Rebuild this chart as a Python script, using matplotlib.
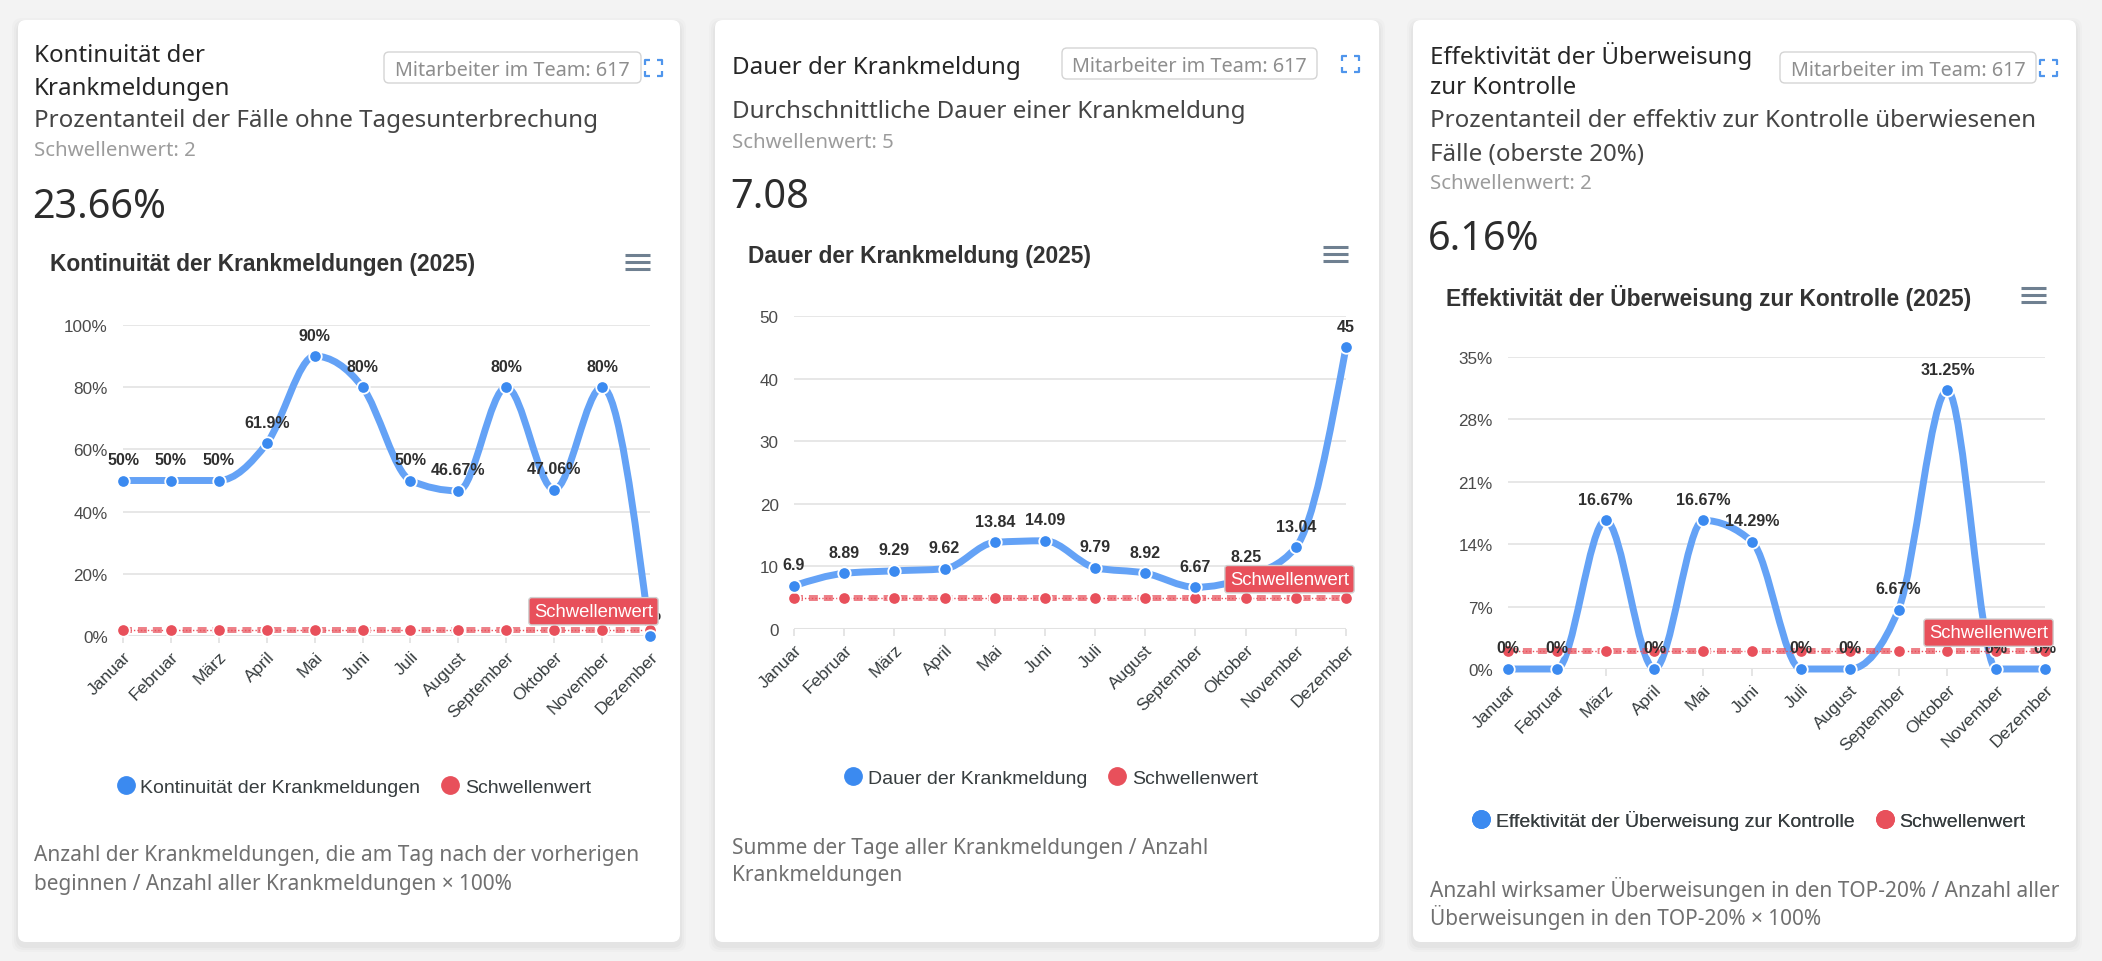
import numpy as np
import matplotlib
matplotlib.use('Agg')
import matplotlib.pyplot as plt
import matplotlib.patches as patches
from matplotlib.path import Path
from matplotlib.lines import Line2D

plt.rcParams['font.family'] = ['Liberation Sans', 'DejaVu Sans']

# --- Daten -------------------------------------------------------------
months = ['Januar', 'Februar', 'März', 'April', 'Mai', 'Juni', 'Juli',
          'August', 'September', 'Oktober', 'November', 'Dezember']

kontinuitaet = [50, 50, 50, 61.9, 90, 80, 50, 46.67, 80, 47.06, 80, 0]
dauer = [6.9, 8.89, 9.29, 9.62, 13.84, 14.09, 9.79, 8.92, 6.67, 8.25, 13.04, 45]
effektivitaet = [0, 0, 16.67, 0, 16.67, 14.29, 0, 0, 6.67, 31.25, 0, 0]

schwelle_kont = 2
schwelle_dauer = 5
schwelle_eff = 2

yticks_kont = [0, 20, 40, 60, 80, 100]
yticks_dauer = [0, 10, 20, 30, 40, 50]
yticks_eff = [0, 7, 14, 21, 28, 35]

kpi_kont = '23.66%'
kpi_dauer = '7.08'
kpi_eff = '6.16%'
team = 'Mitarbeiter im Team: 617'

BLUE_LINE = '#64a2f6'
BLUE = '#3b8af0'
RED = '#e8505b'
W, H = 2102, 962
CARD_FONT = ['Noto Sans', 'DejaVu Sans']

fig = plt.figure(figsize=(W / 100, H / 100), dpi=100)
fig.patch.set_facecolor('#f3f3f3')

# Hintergrund-Achse in Pixelkoordinaten
bg = fig.add_axes([0, 0, 1, 1])
bg.set_xlim(0, W)
bg.set_ylim(H, 0)
bg.axis('off')


def px_rect(x0, x1, ytop, ybot):
    return [x0 / W, 1 - ybot / H, (x1 - x0) / W, (ybot - ytop) / H]


def draw_card(left, right, top=21, bottom=943):
    for i, a in enumerate([0.025, 0.02, 0.015]):
        sh = patches.FancyBboxPatch((left - 2 - i * 2, top - 1 - i * 2 + 3),
                                    right - left + 4 + i * 4, bottom - top + 4 + i * 4,
                                    boxstyle='round,pad=0,rounding_size=10',
                                    fc='#000000', ec='none', alpha=a)
        bg.add_patch(sh)
    card = patches.FancyBboxPatch((left, top), right - left, bottom - top,
                                  boxstyle='round,pad=0,rounding_size=8',
                                  fc='white', ec='none')
    bg.add_patch(card)


def draw_badge(x0, x1, y0, y1, icon_x0):
    box = patches.FancyBboxPatch((x0, y0), x1 - x0, y1 - y0,
                                 boxstyle='round,pad=0,rounding_size=5',
                                 fc='white', ec='#d4d4d4', lw=1.0)
    bg.add_patch(box)
    bg.text((x0 + x1) / 2, (y0 + y1) / 2 + 2, team, ha='center', va='center',
            fontsize=14.3, color='#8e8e8e', family=CARD_FONT)
    # Vollbild-Icon
    cy = (y0 + y1) / 2
    ix0, ix1, iy0, iy1 = icon_x0, icon_x0 + 17, cy - 8, cy + 8
    k = 5
    for (cx, cyy, dx, dy) in [(ix0, iy0, 1, 1), (ix1, iy0, -1, 1),
                              (ix0, iy1, 1, -1), (ix1, iy1, -1, -1)]:
        bg.plot([cx, cx, cx + dx * k], [cyy + dy * k, cyy, cyy],
                color='#4f95ec', lw=1.6, solid_capstyle='butt')


def draw_menu(x0, y0):
    for j in range(3):
        bg.plot([x0, x0 + 25], [y0 + j * 7, y0 + j * 7], color='#6f8091', lw=2.2,
                solid_capstyle='butt')


def smooth_path(xs, ys):
    # monotone kubische Kurve (wie "smooth" im Original)
    x = np.asarray(xs, dtype=float)
    y = np.asarray(ys, dtype=float)
    n = len(x)
    h = np.diff(x)
    s = np.diff(y) / h
    t = np.zeros(n)
    for i in range(1, n - 1):
        if s[i - 1] * s[i] > 0:
            p = (s[i - 1] * h[i] + s[i] * h[i - 1]) / (h[i - 1] + h[i])
            t[i] = (np.sign(s[i - 1]) + np.sign(s[i])) * min(abs(s[i - 1]), abs(s[i]), 0.5 * abs(p))
    t[0] = (3 * s[0] - t[1]) / 2 if n > 2 else s[0]
    t[-1] = (3 * s[-1] - t[-2]) / 2 if n > 2 else s[-1]
    verts = [(x[0], y[0])]
    codes = [Path.MOVETO]
    for i in range(n - 1):
        d = h[i] / 3
        verts += [(x[i] + d, y[i] + t[i] * d), (x[i + 1] - d, y[i + 1] - t[i + 1] * d),
                  (x[i + 1], y[i + 1])]
        codes += [Path.CURVE4] * 3
    return Path(verts, codes)


def draw_chart(rect, values, threshold, yticks, fmt):
    ax = fig.add_axes(rect)
    ax.set_facecolor('none')
    x = np.arange(len(values))
    ax.set_xlim(0, len(values) - 1)
    ax.set_ylim(yticks[0], yticks[-1])
    for s in ax.spines.values():
        s.set_visible(False)
    ax.set_yticks(yticks)
    ax.set_yticklabels([fmt(t) for t in yticks])
    ax.grid(axis='y', color='#e3e3e3', lw=1.2)
    ax.axhline(yticks[0], color='#e0e0e0', lw=2.2, zorder=1)
    ax.tick_params(axis='y', length=0, pad=11, labelsize=12.3, labelcolor='#4a4a4a')
    ax.set_xticks(x)
    ax.set_xticklabels(months, rotation=45, ha='right', rotation_mode='anchor')
    ax.tick_params(axis='x', length=5, width=1.2, color='#e0e0e0', pad=4,
                   labelsize=12.6, labelcolor='#373d3f')

    # Hauptserie als glatte Kurve
    ax.add_patch(patches.PathPatch(smooth_path(x, values), fc='none', ec=BLUE_LINE,
                                   lw=5, zorder=2, clip_on=False,
                                   capstyle='round', joinstyle='round'))
    # Schwellenwert
    thr = [threshold] * len(values)
    ax.plot(x, thr, color=RED, lw=4.3, alpha=0.72, dashes=(1.5, 1.0),
            dash_capstyle='butt', zorder=3, clip_on=False)
    ax.plot(x, thr, color=RED, lw=1.0, ls=(0, (1, 1.5)), zorder=3, clip_on=False)
    ax.plot(x, thr, ls='', marker='o', ms=9, mfc=RED, mec='white', mew=1.3,
            zorder=4, clip_on=False)
    ax.plot(x, values, ls='', marker='o', ms=9, mfc=BLUE, mec='white', mew=1.3,
            zorder=4, clip_on=False)

    for xi, v in zip(x, values):
        ax.annotate(fmt(v), (xi, v), xytext=(0, 21), textcoords='offset pixels',
                    ha='center', va='center', fontsize=11.5, fontweight='bold',
                    color='#2f2f2f', zorder=5, annotation_clip=False)

    ax.annotate('Schwellenwert', (x[-1], threshold), xytext=(3, 10),
                textcoords='offset pixels', ha='right', va='bottom',
                fontsize=13.3, color='white', zorder=6, annotation_clip=False,
                bbox=dict(boxstyle='round,pad=0.28,rounding_size=0.15',
                          fc=RED, ec='#d0d0d0', lw=1.0))
    return ax


def draw_legend(cx, cy, label):
    handles = [Line2D([], [], ls='', marker='o', ms=12.5, color=BLUE, label=label),
               Line2D([], [], ls='', marker='o', ms=12.5, color=RED, label='Schwellenwert')]
    leg = bg.legend(handles=handles, loc='center', bbox_to_anchor=(cx, cy),
                    bbox_transform=bg.transData, ncol=2, frameon=False,
                    fontsize=14, handlelength=0.9, handletextpad=0.3,
                    columnspacing=1.1, borderpad=0)
    for t in leg.get_texts():
        t.set_color('#373d3f')
    bg.add_artist(leg)


def card_text(x, y, s, kind):
    styles = {
        'title': dict(fontsize=17.3, fontweight='semibold', color='#262626'),
        'sub': dict(fontsize=17.4, color='#454545'),
        'thr': dict(fontsize=14.7, color='#9c9c9c'),
        'kpi': dict(fontsize=28.5, fontweight='light', color='#2c2c2c'),
        'foot': dict(fontsize=15, color='#707070'),
        'ctitle': dict(fontsize=16.4, fontweight='bold', color='#333333',
                       family=['Liberation Sans', 'DejaVu Sans']),
    }
    shift = {'kpi': 5}.get(kind, 3)
    kw = dict(family=CARD_FONT)
    kw.update(styles[kind])
    bg.text(x, y + shift, s, ha='left', va='center', **kw)


pct = lambda v: f'{v:g}%'
num = lambda v: f'{v:g}'

# --- Karte 1 -----------------------------------------------------------
draw_card(18, 680)
card_text(34, 53, 'Kontinuität der', 'title')
card_text(34, 86, 'Krankmeldungen', 'title')
draw_badge(384, 641, 53, 84, 645)
card_text(34, 118, 'Prozentanteil der Fälle ohne Tagesunterbrechung', 'sub')
card_text(34, 148, 'Schwellenwert: 2', 'thr')
card_text(32, 203, kpi_kont, 'kpi')
card_text(50, 262, 'Kontinuität der Krankmeldungen (2025)', 'ctitle')
draw_menu(625, 256)
draw_chart(px_rect(123, 650, 326, 637), kontinuitaet, schwelle_kont, yticks_kont, pct)
draw_legend(354, 788, 'Kontinuität der Krankmeldungen')
card_text(34, 853, 'Anzahl der Krankmeldungen, die am Tag nach der vorherigen', 'foot')
card_text(34, 882, 'beginnen / Anzahl aller Krankmeldungen × 100%', 'foot')

# --- Karte 2 -----------------------------------------------------------
draw_card(715, 1379)
card_text(732, 65, 'Dauer der Krankmeldung', 'title')
draw_badge(1062, 1317, 49, 80, 1342)
card_text(732, 109, 'Durchschnittliche Dauer einer Krankmeldung', 'sub')
card_text(732, 140, 'Schwellenwert: 5', 'thr')
card_text(730, 193, kpi_dauer, 'kpi')
card_text(748, 254, 'Dauer der Krankmeldung (2025)', 'ctitle')
draw_menu(1323, 248)
draw_chart(px_rect(794, 1346, 317, 630), dauer, schwelle_dauer, yticks_dauer, num)
draw_legend(1051, 779, 'Dauer der Krankmeldung')
card_text(732, 846, 'Summe der Tage aller Krankmeldungen / Anzahl', 'foot')
card_text(732, 873, 'Krankmeldungen', 'foot')

# --- Karte 3 -----------------------------------------------------------
draw_card(1413, 2076)
card_text(1430, 53, 'Effektivität der Überweisung', 'title')
card_text(1430, 85, 'zur Kontrolle', 'title')
draw_badge(1780, 2036, 53, 84, 2040)
card_text(1430, 118, 'Prozentanteil der effektiv zur Kontrolle überwiesenen', 'sub')
card_text(1430, 152, 'Fälle (oberste 20%)', 'sub')
card_text(1430, 181, 'Schwellenwert: 2', 'thr')
card_text(1428, 235, kpi_eff, 'kpi')
card_text(1446, 295, 'Effektivität der Überweisung zur Kontrolle (2025)', 'ctitle')
draw_menu(2021, 289)
draw_chart(px_rect(1508, 2045, 358, 670), effektivitaet, schwelle_eff, yticks_eff, pct)
draw_legend(1749, 821, 'Effektivität der Überweisung zur Kontrolle')
card_text(1430, 887, 'Anzahl wirksamer Überweisungen in den TOP-20% / Anzahl aller', 'foot')
card_text(1430, 915, 'Überweisungen in den TOP-20% × 100%', 'foot')

fig.savefig('out.png', dpi=100)
